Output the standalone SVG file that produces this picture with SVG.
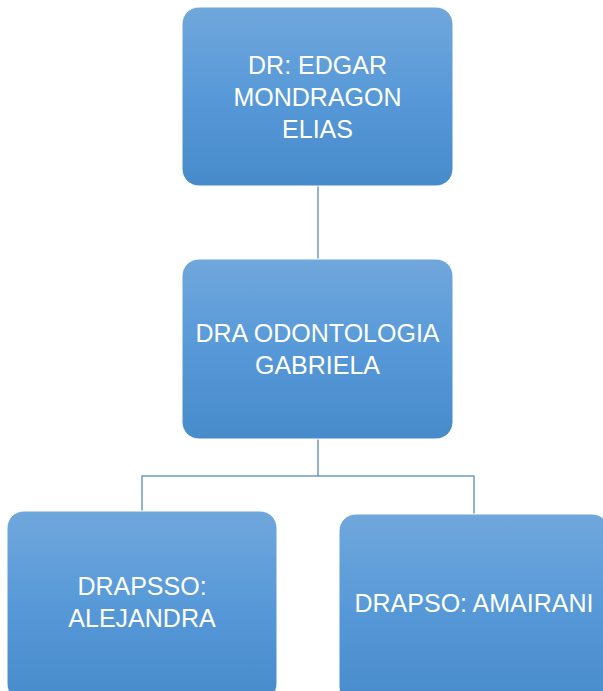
<svg xmlns="http://www.w3.org/2000/svg" width="603" height="691" viewBox="0 0 603 691">
<defs>
<linearGradient id="g" x1="0" y1="0" x2="0" y2="1">
<stop offset="0" stop-color="#70a7dc"/>
<stop offset="0.5" stop-color="#5799d8"/>
<stop offset="1" stop-color="#488bca"/>
</linearGradient>
<style>
.box{fill:url(#g);stroke:#ffffff;stroke-width:1}
.t{font-family:"Liberation Sans",Arial,sans-serif;font-size:25px;fill:#ffffff;text-anchor:middle}
.c{fill:none;stroke:#6b9bd0;stroke-width:1.5}
</style>
</defs>
<rect width="603" height="691" fill="#ffffff"/>
<g id="connectors">
<path class="c" d="M318 186V259"/>
<path class="c" d="M318 439V476H142V511"/>
<path class="c" d="M318 476H474V514"/>
</g>
<g id="n1">
<rect class="box" x="182" y="7" width="271" height="179" rx="17"/>
<text class="t" x="317.5" y="74">DR: EDGAR</text>
<text class="t" x="317.5" y="106">MONDRAGON</text>
<text class="t" x="317.5" y="138">ELIAS</text>
</g>
<g id="n2">
<rect class="box" x="182" y="259" width="271" height="180" rx="17"/>
<text class="t" x="317.5" y="342">DRA ODONTOLOGIA</text>
<text class="t" x="317.5" y="374">GABRIELA</text>
</g>
<g id="n3">
<rect class="box" x="7" y="511" width="270" height="190" rx="17"/>
<text class="t" x="142" y="595">DRAPSSO:</text>
<text class="t" x="142" y="627">ALEJANDRA</text>
</g>
<g id="n4">
<rect class="box" x="339" y="514" width="270" height="190" rx="17"/>
<text class="t" x="474" y="612">DRAPSO: AMAIRANI</text>
</g>
</svg>
